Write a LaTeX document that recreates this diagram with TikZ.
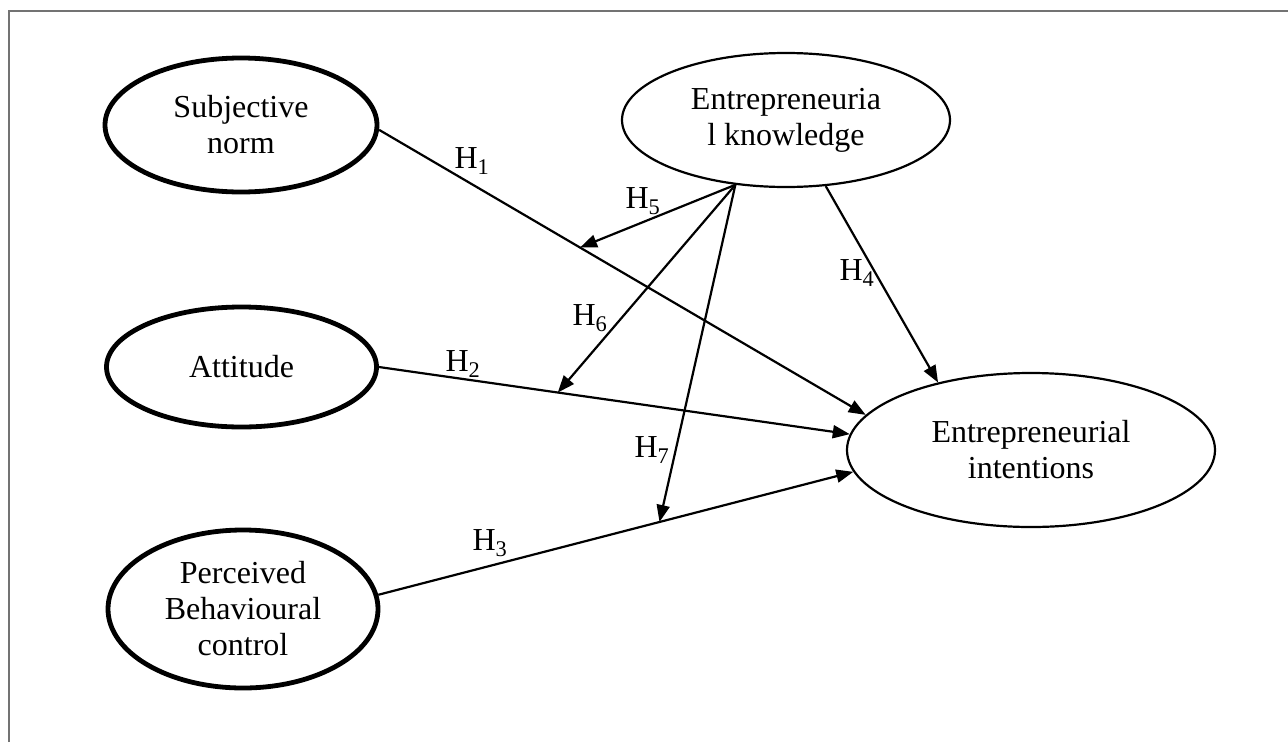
\documentclass[tikz,border=0pt]{standalone}
\usepackage{fontspec}
\setmainfont{Liberation Serif}
\usetikzlibrary{shapes.geometric,arrows.meta,calc}
\begin{document}
\begin{tikzpicture}[x=1pt,y=-1pt,
  thickell/.style={ellipse, draw, line width=4.8pt, inner sep=0pt, align=center, font=\fontsize{32}{36}\selectfont},
  thinell/.style={ellipse, draw, line width=2.2pt, inner sep=0pt, align=center, font=\fontsize{32}{36}\selectfont},
  conn/.style={line width=2.2pt, -{Triangle[length=17pt,width=13pt]}},
  hlab/.style={inner sep=0pt, font=\fontsize{32}{36}\selectfont},
  frame/.style={draw=black!55, line width=1.5pt}]
\useasboundingbox (0,0) rectangle (1288,742);
\draw[frame] (9,742) -- (9,11) -- (1288,11);

\node[thickell, minimum width=272pt, minimum height=134pt] (sn) at (241,125) {Subjective\\norm};
\node[thickell, minimum width=270pt, minimum height=120pt] (att) at (241.5,367) {Attitude};
\node[thickell, minimum width=270pt, minimum height=158pt] (pbc) at (243,609) {Perceived\\Behavioural\\control};
\node[thinell, minimum width=328pt, minimum height=134pt] (ek) at (786,120) {Entrepreneuria\\l knowledge};
\node[thinell, minimum width=368pt, minimum height=154pt] (ei) at (1031,450) {Entrepreneurial\\intentions};

\draw[conn] (sn.-2.9) -- (ei.168.6);
\draw[conn] (att.0) -- (ei.175.2);
\draw[conn] (pbc.6) -- (ei.-173);
\draw[conn] (ek.-59.8) -- (ei.144.1);

\coordinate (h5end) at ($(sn.-2.9)!0.413!(ei.168.6)$);
\coordinate (h6end) at ($(att.0)!0.38!(ei.175.2)$);
\coordinate (h7end) at ($(pbc.6)!0.592!(ei.-173)$);

\draw[conn] (ek.-128.1) -- (h5end);
\draw[conn] (ek.-128.1) -- (h6end);
\draw[conn] (ek.-128.1) -- (h7end);

\node[hlab] (l1) at (472,161) {H\textsubscript{1}};
\node[hlab] (l2) at (463,364) {H\textsubscript{2}};
\node[hlab] (l3) at (490,543) {H\textsubscript{3}};
\node[hlab] (l4) at (857,273) {H\textsubscript{4}};
\node[hlab] (l5) at (643,201) {H\textsubscript{5}};
\node[hlab] (l6) at (590,318) {H\textsubscript{6}};
\node[hlab] (l7) at (652,450) {H\textsubscript{7}};
\end{tikzpicture}
\end{document}
